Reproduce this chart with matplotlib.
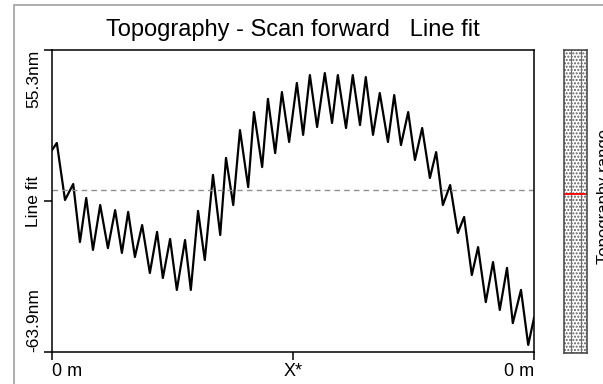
import numpy as np
import matplotlib
matplotlib.use("Agg")
import matplotlib.pyplot as plt
from matplotlib.patches import Rectangle

plt.rcParams['font.family'] = ['Liberation Sans', 'DejaVu Sans']
plt.rcParams['hatch.color'] = '#606060'

# scan position (fraction of line) and height (nm)
pos = [0.000, 0.010, 0.027, 0.044, 0.058, 0.071, 0.085, 0.100, 0.116, 0.131,
       0.145, 0.158, 0.172, 0.187, 0.203, 0.218, 0.230, 0.245, 0.259, 0.276,
       0.288, 0.303, 0.317, 0.334, 0.349, 0.361, 0.376, 0.390, 0.407, 0.419,
       0.436, 0.448, 0.463, 0.477, 0.492, 0.508, 0.521, 0.535, 0.550, 0.566,
       0.581, 0.593, 0.610, 0.624, 0.639, 0.651, 0.666, 0.680, 0.697, 0.710,
       0.724, 0.739, 0.753, 0.768, 0.784, 0.797, 0.811, 0.826, 0.842, 0.855,
       0.871, 0.884, 0.900, 0.915, 0.929, 0.944, 0.956, 0.973, 0.988, 1.000]
height = [15.8, 18.6, -3.9, 2.4, -20.5, -3.1, -23.6, -5.9, -22.9, -7.9,
          -24.8, -8.6, -26.4, -13.8, -32.7, -16.5, -34.7, -19.3, -39.4, -19.7,
          -39.4, -8.2, -27.6, 6.0, -17.7, 12.7, -5.9, 23.7, 1.2, 30.8,
          9.1, 36.0, 14.6, 38.7, 19.0, 42.3, 21.8, 45.4, 24.9, 46.2,
          26.5, 45.4, 24.5, 45.4, 25.7, 44.6, 21.8, 38.3, 19.0, 37.5,
          17.8, 30.8, 11.9, 24.5, 4.8, 15.0, -5.9, 2.0, -16.9, -10.6,
          -33.5, -22.5, -44.2, -28.4, -47.3, -30.7, -52.5, -39.4, -61.1, -50.5]

y_top, y_bot = 55.3, -63.9
y_mid = (y_top + y_bot) / 2
y_labels = ['-63.9nm', 'Line fit', '55.3nm']
x_labels = ['0 m', 'X*', '0 m']
marker_val = -1.5

W, H = 603, 384
fig = plt.figure(figsize=(W / 100, H / 100), dpi=100)

# outer window frame
fig.add_artist(Rectangle((14 / W, -0.2), 1.2, 1.2 - 5 / H, transform=fig.transFigure,
                         fill=False, edgecolor='#a0a0a0', lw=1.2))

ax = fig.add_axes([52 / W, 1 - 352 / H, (534 - 52) / W, (352 - 50) / H])
ax.plot(pos, height, color='black', lw=1.6)
ax.axhline(0, color='#909090', lw=1.0, dashes=(4, 3))
ax.set_xlim(0, 1)
ax.set_ylim(y_bot, y_top)
for s in ax.spines.values():
    s.set_linewidth(1.1)

ax.set_yticks([y_bot, y_mid, y_top])
ax.set_yticklabels(y_labels, rotation=90, fontsize=12.5)
yl = ax.get_yticklabels()
yl[0].set_va('bottom')
yl[1].set_va('center')
yl[2].set_va('top')
ax.set_xticks([0, 0.5, 1])
ax.set_xticklabels(x_labels, fontsize=13)
xl = ax.get_xticklabels()
xl[0].set_ha('left')
xl[2].set_ha('right')
ax.tick_params(axis='both', length=6, width=1.1, pad=2)
ax.set_title('Topography - Scan forward   Line fit', fontsize=17, pad=10)

# colour scale bar (stippled)
cax = fig.add_axes([564 / W, 1 - 353 / H, (587 - 564) / W, (353 - 50) / H])
cax.set_xlim(0, 1)
cax.set_ylim(y_bot, y_top)
cax.add_patch(Rectangle((0, y_bot), 1, y_top - y_bot, facecolor='white',
                        edgecolor='#606060', hatch='.....', lw=0))
cax.axvline(0.3, color='#707070', lw=0.8)
cax.axvline(0.72, color='#707070', lw=0.8)
cax.axhline(marker_val, color='red', lw=1.3)
cax.set_xticks([])
cax.set_yticks([])
for s in cax.spines.values():
    s.set_linewidth(1.1)
    s.set_color('#404040')

fig.text(597 / W, 1 - 196 / H, 'Topography range', rotation=90,
         ha='left', va='center', fontsize=12)

fig.savefig('out.png', dpi=100)
